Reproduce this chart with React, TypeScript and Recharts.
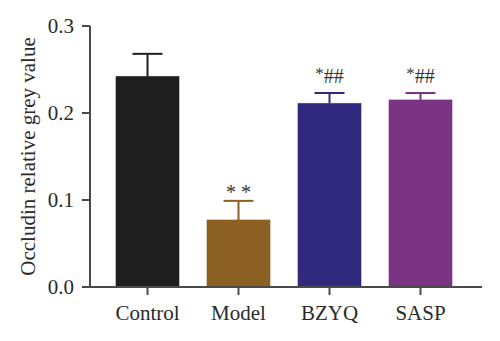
import React from "react";
import { BarChart, Bar, XAxis, YAxis, Cell } from "recharts";

const categories = ["Control", "Model", "BZYQ", "SASP"];
const means = [0.242, 0.077, 0.211, 0.215];
const errors = [0.026, 0.022, 0.012, 0.008];
const marksStar = ["", "* *", "*", "*"];
const marksHash = ["", "", "##", "##"];
const colors = ["#1e1e1e", "#8c5f22", "#31297d", "#7b3383"];
const yTicks = [0, 0.1, 0.2, 0.3];

const data = categories.map((name, i) => ({
  name,
  value: means[i],
  err: errors[i],
  star: marksStar[i],
  hash: marksHash[i],
  color: colors[i],
}));

const FONT = "'Liberation Serif', 'DejaVu Serif', serif";

const BarShape = (props: any) => {
  const { x, y, width, height, payload } = props;
  const perUnit = height / payload.value;
  const errTop = y - payload.err * perUnit;
  const cx = x + width / 2;
  const capHalf = 15;
  const c = payload.color;
  return (
    <g>
      <rect x={x} y={y} width={width} height={height} fill={c} stroke={c} strokeOpacity={0.6} strokeWidth={1} />
      <line x1={cx} x2={cx} y1={y} y2={errTop} stroke={c} strokeWidth={2} />
      <line x1={cx - capHalf} x2={cx + capHalf} y1={errTop} y2={errTop} stroke={c} strokeWidth={2} />
      {payload.hash ? (
        <text x={cx} y={errTop - 10} textAnchor="middle" fontFamily={FONT} fill="#333333">
          <tspan fontSize={17} dy={-4} fill="#333333">{payload.star}</tspan>
          <tspan fontSize={20} dy={4} fill="#333333">{payload.hash}</tspan>
        </text>
      ) : payload.star ? (
        <text x={cx} y={errTop - 2} textAnchor="middle" fontFamily={FONT} fontSize={20} fill="#333333">
          {payload.star}
        </text>
      ) : null}
    </g>
  );
};

export default function App() {
  return (
    <div style={{ position: "absolute", left: 0, top: 0, background: "#fff" }}>
      <BarChart
        width={500}
        height={341}
        data={data}
        margin={{ top: 26, right: 18, bottom: 16, left: 30 }}
        barCategoryGap={0}
      >
        <XAxis
          dataKey="name"
          padding={{ left: 12, right: 16 }}
          stroke="#4a4a4a"
          strokeWidth={2}
          tickSize={8}
          tickMargin={10}
          height={38}
          tick={{ fontFamily: FONT, fontSize: 21, fill: "#2a2a2a" }}
          tickLine={{ stroke: "#4a4a4a", strokeWidth: 2 }}
        />
        <YAxis
          domain={[0, 0.3]}
          ticks={yTicks}
          width={60}
          stroke="#4a4a4a"
          strokeWidth={2}
          tickSize={8}
          tickMargin={8}
          tickFormatter={(v: number) => v.toFixed(1)}
          tick={{ fontFamily: FONT, fontSize: 21, fill: "#2a2a2a" }}
          tickLine={{ stroke: "#4a4a4a", strokeWidth: 2 }}
          label={{
            value: "Occludin relative grey value",
            angle: -90,
            position: "insideLeft",
            offset: -2,
            style: { fontFamily: FONT, fontSize: 21, fill: "#2a2a2a", textAnchor: "middle" },
          }}
        />
        <Bar dataKey="value" barSize={63} isAnimationActive={false} shape={BarShape}>
          {data.map((d, i) => (
            <Cell key={i} fill={d.color} />
          ))}
        </Bar>
      </BarChart>
    </div>
  );
}
